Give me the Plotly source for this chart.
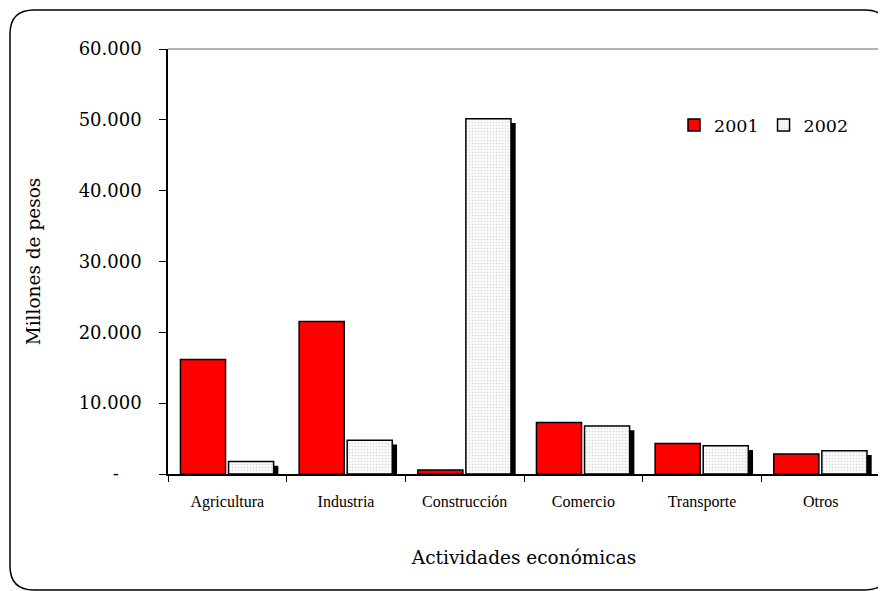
import plotly.graph_objects as go

categorias = ["Agricultura", "Industria", "Construcción", "Comercio", "Transporte", "Otros"]
valores_2001 = [16150, 21540, 560, 7260, 4310, 2810]
valores_2002 = [1780, 4780, 50160, 6790, 3980, 3270]
ticks_y = [0, 10000, 20000, 30000, 40000, 50000, 60000]
etiquetas_y = ["-\u00a0\u00a0\u00a0\u00a0", "10.000", "20.000", "30.000", "40.000", "50.000", "60.000"]

W, H = 886, 591
OFF = 8  # page body margin
L, R, T, B = 160, 14, 41, 125
PW, PH = W - L - R, H - T - B

def px(x):
    return (x - OFF - L) / PW

def py(y):
    return (H - B - (y - OFF)) / PH

serif = "DejaVu Serif"
times = "Liberation Serif"

fig = go.Figure()

# shadow for 2002 bars
sombra = [v - 600 for v in valores_2002]
fig.add_trace(go.Bar(
    x=categorias, y=sombra, width=0.38, offset=0.05,
    marker=dict(color="black", line=dict(width=0)),
    showlegend=False, hoverinfo="skip"))

fig.add_trace(go.Bar(
    x=categorias, y=valores_2001, name="2001", width=0.38, offset=-0.395,
    marker=dict(color="#FF0000", line=dict(color="black", width=1.5))))

fig.add_trace(go.Bar(
    x=categorias, y=valores_2002, name="2002", width=0.38, offset=0.01,
    marker=dict(color="white", line=dict(color="black", width=1.5),
                pattern=dict(shape=".", fgcolor="#b8b8b8", bgcolor="#fbfbfb",
                             size=3, solidity=0.25))))

# rounded outer frame
x0, y0, x1, y1, r = 10, 10, 889, 590, 24
path = (f"M {px(x0+r)},{py(y0)} L {px(x1-r)},{py(y0)} Q {px(x1)},{py(y0)} {px(x1)},{py(y0+r)} "
        f"L {px(x1)},{py(y1-r)} Q {px(x1)},{py(y1)} {px(x1-r)},{py(y1)} "
        f"L {px(x0+r)},{py(y1)} Q {px(x0)},{py(y1)} {px(x0)},{py(y1-r)} "
        f"L {px(x0)},{py(y0+r)} Q {px(x0)},{py(y0)} {px(x0+r)},{py(y0)} Z")

fig.update_layout(
    width=W, height=H,
    margin=dict(l=L, r=R, t=T, b=B),
    paper_bgcolor="white", plot_bgcolor="white",
    barmode="overlay",
    showlegend=True,
    legend=dict(orientation="h", x=px(674), y=py(125), xanchor="left", yanchor="middle",
                font=dict(family=serif, size=17.5, color="black"),
                bgcolor="rgba(0,0,0,0)", itemwidth=30, traceorder="normal"),
    shapes=[
        dict(type="path", xref="paper", yref="paper", path=path,
             line=dict(color="black", width=1.5), fillcolor="rgba(0,0,0,0)", layer="below"),
        dict(type="line", xref="paper", yref="paper", x0=0, x1=1, y0=1, y1=1,
             line=dict(color="#999999", width=1.5)),
        dict(type="line", xref="paper", yref="paper", x0=1, x1=1, y0=0, y1=1,
             line=dict(color="#999999", width=1.5)),
    ],
    xaxis=dict(
        type="category", showline=True, linecolor="black", linewidth=1.5,
        ticks="outside", tickson="boundaries", ticklen=6, tickcolor="black", tickwidth=1,
        showgrid=False, range=[-0.5, 5.5], ticklabelstandoff=12,
        tickfont=dict(family=times, size=16, color="black"),
        title=dict(text="Actividades económicas", font=dict(family=serif, size=18.5, color="black"),
                   standoff=41),
    ),
    yaxis=dict(
        range=[0, 60000], tickvals=ticks_y, ticktext=etiquetas_y,
        showline=True, linecolor="black", linewidth=1.5,
        ticks="outside", ticklen=7, tickcolor="black", tickwidth=1,
        showgrid=False, zeroline=False, ticklabelstandoff=14,
        tickfont=dict(family=serif, size=18, color="black"),
        title=dict(text="Millones de pesos", font=dict(family=serif, size=18.5, color="black"),
                   standoff=33),
    ),
)

fig.write_html("out.html")
